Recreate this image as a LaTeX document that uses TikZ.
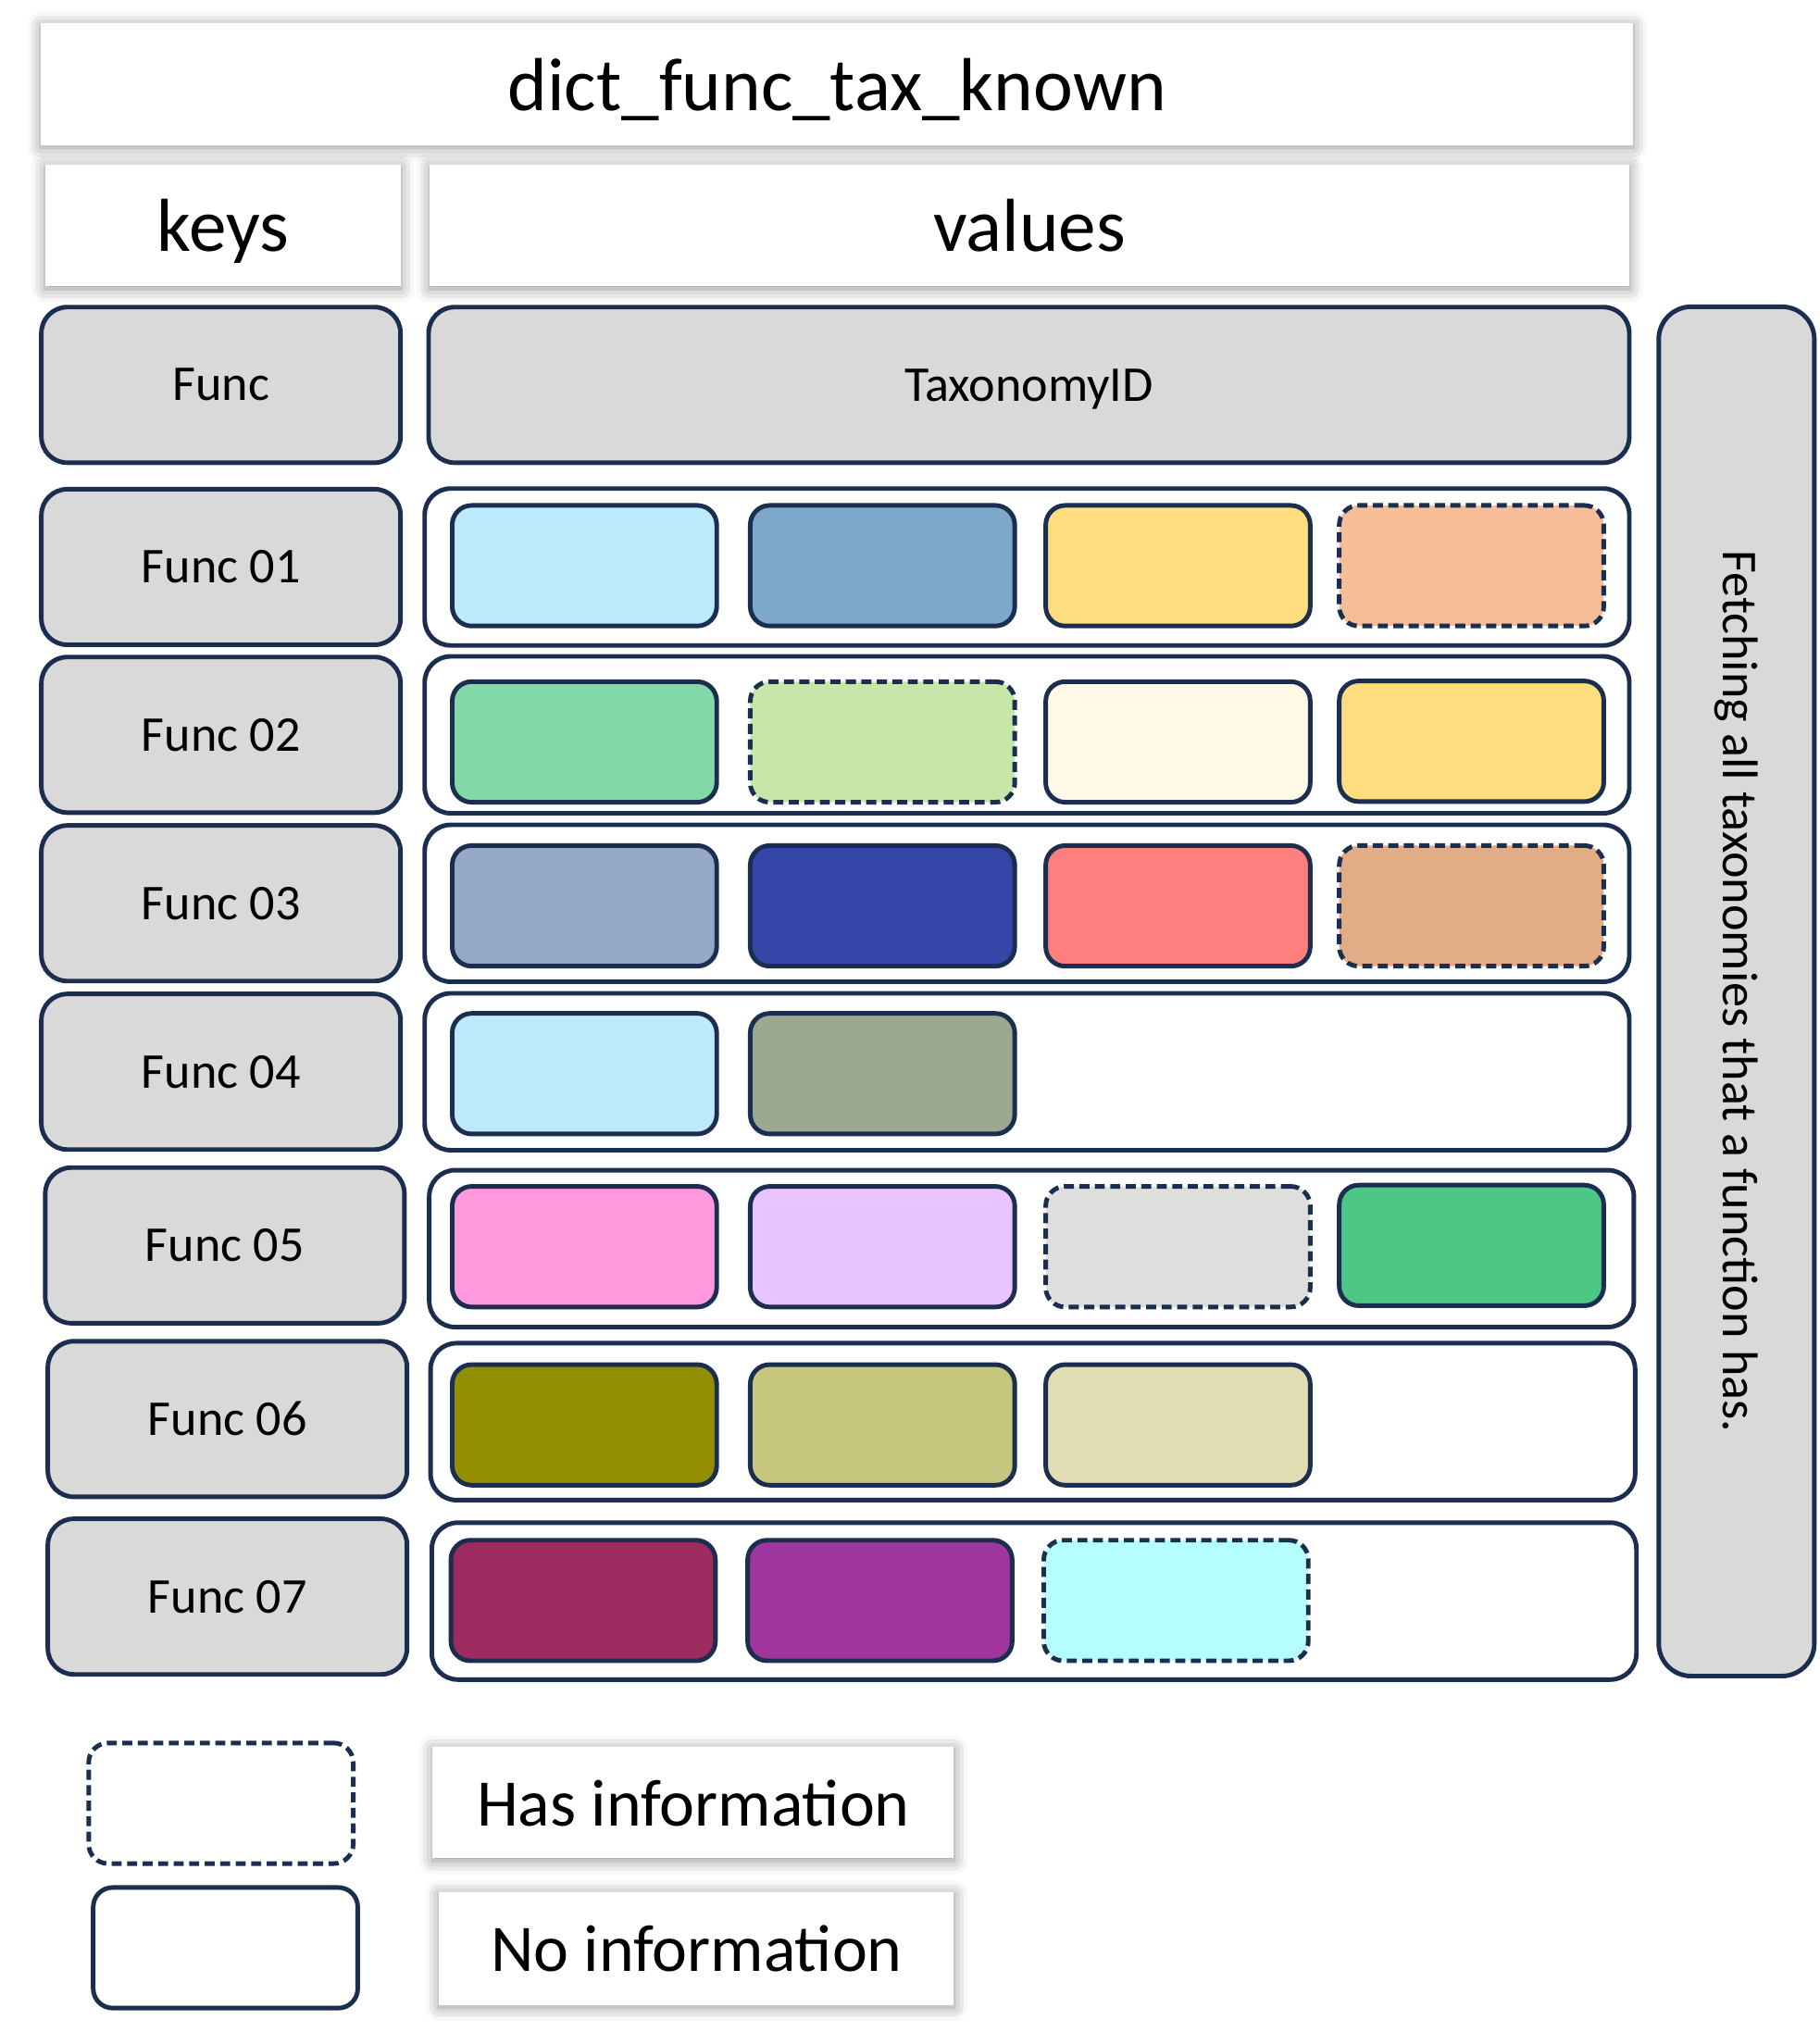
\documentclass[tikz,border=0pt]{standalone}
\usepackage{fontspec}
\setmainfont{Carlito}
\usepackage{tikz}
\usetikzlibrary{
    positioning,
    shadows.blur
}
\definecolor{navy}{HTML}{1C2E4F}
\definecolor{keygray}{HTML}{D9D9D9}
\definecolor{skyblue}{HTML}{BDE9FD}
\definecolor{steelblue}{HTML}{7EA8C9}
\definecolor{sunyellow}{HTML}{FEDD7E}
\definecolor{peach}{HTML}{F6BE98}
\definecolor{mint}{HTML}{82D8A6}
\definecolor{palegreen}{HTML}{C7E7A8}
\definecolor{cream}{HTML}{FEF8E6}
\definecolor{greyblue}{HTML}{95A8C8}
\definecolor{royal}{HTML}{3646A8}
\definecolor{salmon}{HTML}{FF7F7F}
\definecolor{tan}{HTML}{E2AC87}
\definecolor{sage}{HTML}{9CA890}
\definecolor{pink}{HTML}{FF99DD}
\definecolor{lavender}{HTML}{EAC4FE}
\definecolor{silver}{HTML}{DEDEDE}
\definecolor{emerald}{HTML}{4DC785}
\definecolor{olive}{HTML}{948F00}
\definecolor{khaki}{HTML}{C6C67E}
\definecolor{beige}{HTML}{E0DDB2}
\definecolor{maroon}{HTML}{9E2B60}
\definecolor{purple}{HTML}{9E369D}
\definecolor{aqua}{HTML}{B6FDFD}
\tikzstyle{header} = [rectangle, fill=white, inner sep=0, text depth=0pt, blur shadow={shadow xshift=0pt, shadow yshift=-0.5pt, shadow blur radius=3pt, shadow opacity=45}, font=\fontsize{16.5}{20}\selectfont]
\tikzstyle{legendlabel} = [header, font=\fontsize{14.6}{18}\selectfont]
\tikzstyle{keybox} = [rectangle, rounded corners=2mm, draw=navy, line width=1pt, fill=keygray, minimum width=2.77cm, minimum height=1.2cm, font=\fontsize{11}{13}\selectfont]
\tikzstyle{rowbox} = [rectangle, rounded corners=2mm, draw=navy, line width=1pt, fill=white, minimum width=9.29cm, minimum height=1.21cm]
\tikzstyle{tax} = [rectangle, rounded corners=1.5mm, draw=navy, line width=1pt, minimum width=2.04cm, minimum height=0.93cm]
\tikzstyle{known} = [tax, dash pattern=on 2.2pt off 1.2pt]

\begin{document}
\begin{tikzpicture}[x=0.01cm, y=-0.01cm]
    \useasboundingbox (0,0) rectangle (1404,1568);

    % headers
    \node[header, minimum width=12.28cm, minimum height=0.94cm] (Dict) at (646,65) {dict\_func\_tax\_known};
    \node[header, minimum width=2.74cm, minimum height=0.94cm] (Keys) at (172,174) {keys};
    \node[header, minimum width=9.25cm, minimum height=0.94cm] (Values) at (794.5,174) {values};

    % keys
    \node[keybox] (K0) at (170.5,297) {Func};
    \node[keybox] (K1) at (170.5,437.5) {Func 01};
    \node[keybox] (K2) at (170.5,567) {Func 02};
    \node[keybox] (K3) at (170.5,697) {Func 03};
    \node[keybox] (K4) at (170.5,827) {Func 04};
    \node[keybox] (K5) at (173.5,961) {Func 05};
    \node[keybox] (K6) at (175.5,1095) {Func 06};
    \node[keybox] (K7) at (175.5,1232) {Func 07};

    % values
    \node[keybox, text depth=0pt, minimum width=9.26cm] (V0) at (794,297) {TaxonomyID};
    \node[rowbox] (V1) at (792.5,437.5) {};
    \node[rowbox] (V2) at (792.5,567) {};
    \node[rowbox] (V3) at (792.5,697) {};
    \node[rowbox] (V4) at (792.5,827) {};
    \node[rowbox] (V5) at (796,963.5) {};
    \node[rowbox] (V6) at (797,1097) {};
    \node[rowbox] (V7) at (798,1235.5) {};

    \node[keybox, rounded corners=2.5mm, rotate=-90, minimum width=10.56cm, minimum height=1.2cm] (Fetch) at (1340,765) {Fetching all taxonomies that a function has.};

    % taxonomies
    \node[tax, fill=skyblue] (T11) at (451,436.5) {};
    \node[tax, fill=steelblue] (T12) at (681,436.5) {};
    \node[tax, fill=sunyellow] (T13) at (909,436.5) {};
    \node[known, fill=peach] (T14) at (1135.5,436.5) {};

    \node[tax, fill=mint] (T21) at (451,572.5) {};
    \node[known, fill=palegreen] (T22) at (681,572.5) {};
    \node[tax, fill=cream] (T23) at (909,572.5) {};
    \node[tax, fill=sunyellow] (T24) at (1135.5,572) {};

    \node[tax, fill=greyblue] (T31) at (451,699) {};
    \node[tax, fill=royal] (T32) at (681,699) {};
    \node[tax, fill=salmon] (T33) at (909,699) {};
    \node[known, fill=tan] (T34) at (1135.5,699) {};

    \node[tax, fill=skyblue] (T41) at (451,828.5) {};
    \node[tax, fill=sage] (T42) at (681,828.5) {};

    \node[tax, fill=pink] (T51) at (451,962) {};
    \node[tax, fill=lavender] (T52) at (681,962) {};
    \node[known, fill=silver] (T53) at (909,962) {};
    \node[tax, fill=emerald] (T54) at (1135.5,961) {};

    \node[tax, fill=olive] (T61) at (451,1099.5) {};
    \node[tax, fill=khaki] (T62) at (681,1099.5) {};
    \node[tax, fill=beige] (T63) at (909,1099.5) {};

    \node[tax, fill=maroon] (T71) at (450,1235) {};
    \node[tax, fill=purple] (T72) at (679,1235) {};
    \node[known, fill=aqua] (T73) at (907.5,1235) {};

    % legend
    \node[known, fill=white] (LHas) at (170.5,1391.5) {};
    \node[tax, fill=white] (LNo) at (174,1503) {};
    \node[legendlabel, minimum width=4.02cm, minimum height=0.86cm] (HasLabel) at (535,1391) {Has information};
    \node[legendlabel, minimum width=3.97cm, minimum height=0.87cm] (NoLabel) at (537.5,1503.5) {No information};
\end{tikzpicture}
\end{document}
